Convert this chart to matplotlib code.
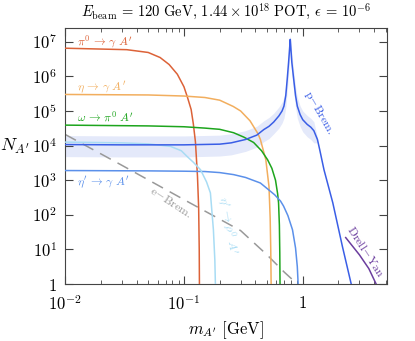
import matplotlib
matplotlib.use("Agg")
import matplotlib.pyplot as plt
import numpy as np

plt.rcParams['mathtext.fontset'] = 'cm'
plt.rcParams['font.family'] = ['DejaVu Serif']

# ---- data (m in GeV, N = number of A') ----
pi0_m = [0.01, 0.033, 0.05, 0.063, 0.075, 0.088, 0.1, 0.107, 0.115, 0.12, 0.125, 0.13, 0.133, 0.1345, 0.135]
pi0_n = [6.5e6, 5.9e6, 4.9e6, 3.5e6, 2.2e6, 1.15e6, 5.0e5, 2.5e5, 1.1e5, 4.2e4, 1.26e4, 1.3e3, 160, 10, 1]

eta_m = [0.01, 0.05, 0.1, 0.15, 0.2, 0.26, 0.3, 0.36, 0.42, 0.44, 0.489, 0.52, 0.532, 0.538, 0.542]
eta_n = [3.0e5, 2.9e5, 2.7e5, 2.45e5, 2.05e5, 1.35e5, 1.0e5, 5.2e4, 2.2e4, 1.5e4, 3.9e3, 650, 80, 10, 1]

omega_m = [0.01, 0.05, 0.1, 0.15, 0.2, 0.262, 0.32, 0.386, 0.45, 0.506, 0.55, 0.59, 0.615, 0.626, 0.636, 0.641, 0.644]
omega_n = [3.9e4, 3.7e4, 3.5e4, 3.2e4, 2.95e4, 2.35e4, 1.75e4, 1.23e4, 7.1e3, 3.9e3, 2.2e3, 1.0e3, 400, 220, 50, 8, 1]

etap_m = [0.01, 0.05, 0.1, 0.15, 0.2, 0.262, 0.33, 0.44, 0.506, 0.58, 0.65, 0.69, 0.75, 0.82, 0.87, 0.90, 0.915]
etap_n = [1.9e3, 1.86e3, 1.82e3, 1.78e3, 1.66e3, 1.45e3, 1.2e3, 830, 560, 380, 250, 178, 95, 37, 11, 3.2, 1]

etarho_m = [0.01, 0.03, 0.05, 0.077, 0.095, 0.106, 0.12, 0.138, 0.155, 0.167, 0.177, 0.182, 0.184]
etarho_n = [1.26e4, 1.2e4, 1.12e4, 9.5e3, 7.1e3, 4.9e3, 3.3e3, 2.0e3, 890, 430, 37, 5, 1]

ebrem_m = [0.01, 0.03, 0.1, 0.3, 0.5, 0.7, 0.9]
ebrem_n = [2.1e4, 2.7e3, 275, 35, 7, 2.2, 1]

pbrem_m = [0.01, 0.03, 0.1, 0.2, 0.25, 0.33, 0.41, 0.47, 0.52, 0.57, 0.63, 0.67, 0.695, 0.72, 0.74, 0.76,
           0.775, 0.785, 0.795, 0.81, 0.84, 0.87, 0.90, 0.95, 1.0, 1.09, 1.17, 1.24, 1.33, 1.39, 1.51,
           1.79, 2.16, 2.56]
pbrem_n = [1.07e4, 1.05e4, 1.05e4, 1.1e4, 1.2e4, 1.5e4, 2.0e4, 2.9e4, 3.6e4, 4.8e4, 7.2e4, 1.0e5, 1.38e5,
           2.8e5, 8.1e5, 2.5e6, 6.3e6, 1.17e7, 6.3e6, 2.5e6, 8.1e5, 2.8e5, 1.38e5, 7.9e4, 5.6e4, 4.1e4,
           3.4e4, 2.7e4, 1.5e4, 7.6e3, 2.0e3, 224, 12, 1]

# uncertainty band on p-Brem (same mass points, up to 1.33 GeV)
band_m = pbrem_m[:29]
band_lo = [4.8e3, 4.7e3, 4.7e3, 5.0e3, 5.4e3, 6.8e3, 9.0e3, 1.3e4, 1.6e4, 2.2e4, 3.2e4, 4.5e4, 6.2e4, 1.26e5,
           3.6e5, 1.1e6, 2.8e6, 5.3e6, 2.8e6, 1.1e6, 3.6e5, 1.26e5, 6.2e4, 3.6e4, 2.5e4, 1.8e4, 1.5e4, 1.2e4, 1.2e4]
band_hi = [1.95e4, 1.9e4, 1.9e4, 2.0e4, 2.2e4, 2.7e4, 3.6e4, 5.2e4, 6.5e4, 8.6e4, 1.3e5, 1.8e5, 2.5e5, 5.0e5,
           1.46e6, 4.5e6, 1.1e7, 1.5e7, 1.1e7, 4.5e6, 1.46e6, 5.0e5, 2.5e5, 1.4e5, 1.0e5, 7.4e4, 6.1e4, 4.9e4, 1.7e4]

dy_m = [2.3, 3.0, 3.6, 4.15]
dy_n = [22, 7, 2.8, 1]

xticks = [0.01, 0.1, 1]
xtick_labels = ['$10^{-2}$', '$10^{-1}$', '$1$']
yticks = [1, 1e1, 1e2, 1e3, 1e4, 1e5, 1e6, 1e7]
ytick_labels = ['$1$', '$10^{1}$', '$10^{2}$', '$10^{3}$', '$10^{4}$', '$10^{5}$', '$10^{6}$', '$10^{7}$']

# ---- plot ----
fig = plt.figure(figsize=(4.15, 3.41), dpi=100)
ax = fig.add_axes([0.157, 0.167, 0.775, 0.751])

ax.fill_between(band_m, band_lo, band_hi, color='#e4e9fa', lw=0, zorder=1)

lw = 1.1
ax.plot(pi0_m, pi0_n, color='#dc6238', lw=lw, zorder=3)
ax.plot(eta_m, eta_n, color='#f2ae5e', lw=lw, zorder=3)
ax.plot(omega_m, omega_n, color='#1da51d', lw=lw, zorder=3)
ax.plot(etap_m, etap_n, color='#5b90ea', lw=lw, zorder=3)
ax.plot(etarho_m, etarho_n, color='#a8dcf4', lw=lw, zorder=3)
ax.plot(ebrem_m, ebrem_n, color='#999999', lw=lw, dashes=(8, 5), zorder=2)
ax.plot(pbrem_m, pbrem_n, color='#3a5ee6', lw=lw, zorder=4)
ax.plot(dy_m, dy_n, color='#6b3d9e', lw=lw, zorder=3)

fs = 8.5
ax.text(0.0125, 1.0e7, r"$\pi^0\,\rightarrow\,\gamma\ A'$", color='#dc6238', fontsize=fs, va='center', ha='left')
ax.text(0.0125, 5.1e5, r"$\eta\,\rightarrow\,\gamma\ A'$", color='#f2ae5e', fontsize=fs, va='center', ha='left')
ax.text(0.0125, 6.5e4, r"$\omega\,\rightarrow\,\pi^0\ A'$", color='#1da51d', fontsize=fs, va='center', ha='left')
ax.text(0.0125, 900, r"$\eta'\,\rightarrow\,\gamma\ A'$", color='#5b90ea', fontsize=fs, va='center', ha='left')
ax.text(0.077, 224, r"$\mathrm{e\!-\!Brem.}$", color='#999999', fontsize=fs, rotation=-33,
        va='center', ha='center')
ax.text(0.233, 48, r"$\eta'\,\rightarrow\,\rho^0\ A'$", color='#a8dcf4', fontsize=fs, rotation=-80,
        va='center', ha='center')
ax.text(1.39, 9.1e4, r"$\mathrm{p\!-\!Brem.}$", color='#3a5ee6', fontsize=fs, rotation=-60,
        va='center', ha='center')
ax.text(3.4, 8.5, r"$\mathrm{Drell\!-\!Yan}$", color='#6b3d9e', fontsize=fs, rotation=-57,
        va='center', ha='center')

ax.set_xscale('log')
ax.set_yscale('log')
ax.set_xlim(0.01, 5.1)
ax.set_ylim(1, 2.5e7)
ax.set_xticks(xticks)
ax.set_xticklabels(xtick_labels)
ax.set_yticks(yticks)
ax.set_yticklabels(ytick_labels)
ax.tick_params(which='both', direction='in', top=True, right=True, colors='#444444', labelcolor='black',
               labelsize=12)
ax.tick_params(which='major', length=6, width=0.8)
ax.tick_params(which='minor', length=3, width=0.6)
ax.tick_params(axis='x', pad=8)
ax.tick_params(axis='y', pad=6)
for s in ax.spines.values():
    s.set_color('#444444')
    s.set_linewidth(0.8)

ax.set_xlabel(r"$m_{A'}\ \mathrm{[GeV]}$", fontsize=12, labelpad=4)
ax.set_ylabel(r"$N_{A'}$", fontsize=13, rotation=0, labelpad=12)
ax.set_title(r"$E_\mathrm{beam}\,=\,120\ \mathrm{GeV},\,1.44\times10^{18}\ \mathrm{POT},\,\epsilon\,=\,10^{-6}$",
             fontsize=10.5, pad=8)

fig.savefig('out.png', dpi=100)
